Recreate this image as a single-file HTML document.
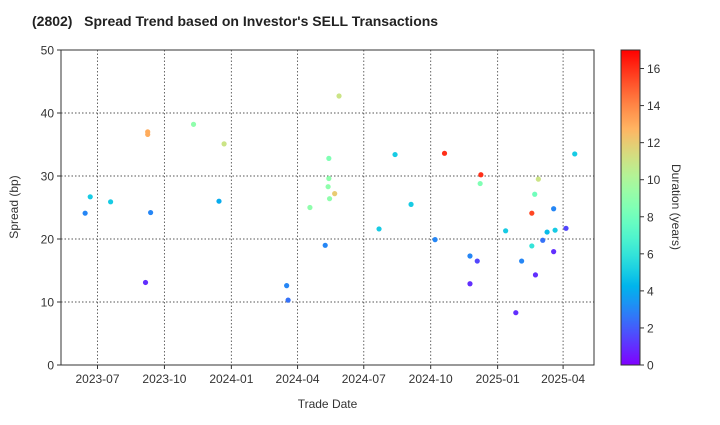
<!DOCTYPE html>
<html><head><meta charset="utf-8"><style>
body{margin:0;background:#fff;font-family:"Liberation Sans",sans-serif}
</style></head><body>
<svg id="chart" width="720" height="420" xmlns="http://www.w3.org/2000/svg" font-family="Liberation Sans, sans-serif">
<defs><linearGradient id="cb" x1="0" y1="1" x2="0" y2="0"></linearGradient></defs>
<text x="32" y="26" font-size="14" font-weight="bold" fill="#222" style="white-space:pre" xml:space="preserve">(2802)   Spread Trend based on Investor's SELL Transactions</text>
<g id="plot"></g>
</svg>
<script>
const dates=["2023-06-14","2023-06-21","2023-07-19","2023-09-05","2023-09-08","2023-09-08","2023-09-12","2023-11-10","2023-12-15","2023-12-22","2024-03-17","2024-03-19","2024-04-18","2024-05-09","2024-05-14","2024-05-14","2024-05-13","2024-05-15","2024-05-22","2024-05-28","2024-07-22","2024-08-13","2024-09-04","2024-10-07","2024-10-20","2024-11-24","2024-12-04","2024-11-24","2024-12-09","2024-12-08","2025-01-12","2025-01-26","2025-02-03","2025-02-17","2025-02-17","2025-02-21","2025-02-26","2025-02-22","2025-03-04","2025-03-10","2025-03-21","2025-03-19","2025-03-19","2025-04-05","2025-04-17"];
const spreads=[24.1,26.7,25.9,13.1,37.0,36.6,24.2,38.2,26.0,35.1,12.6,10.3,25.0,19.0,32.8,29.6,28.3,26.4,27.2,42.7,21.6,33.4,25.5,19.9,33.6,17.3,16.5,12.9,30.2,28.8,21.3,8.3,16.5,24.1,18.9,27.1,29.5,14.3,19.8,21.1,21.4,24.8,18.0,21.7,33.5];
const durations=[3,5,5,1,13,13,3,9,4,11,3,2.5,9,3,8.5,9,9,9,12,11,5,5,5,3,16,3,1.5,1,16,8.5,5,1,3,15.5,6,8,11,1,2.5,4.5,5,3,1,1.5,5];
const yTicks=[0,10,20,30,40,50];
const xTickLabels=["2023-07","2023-10","2024-01","2024-04","2024-07","2024-10","2025-01","2025-04"];
const cTicks=[0,2,4,6,8,10,12,14,16];
const NS="http://www.w3.org/2000/svg";
const L=61,R=594,T=50,B=365,CMAX=17;
const t0=Date.UTC(2023,6,1),pxDay=0.7275;
function dayOf(s){const p=s.split("-");return (Date.UTC(+p[0],+p[1]-1,+(p[2]||1))-t0)/864e5;}
const xS=s=>97.5+dayOf(s)*pxDay;
const yS=v=>B-(v/50)*(B-T);
function rainbow(x){const c=v=>Math.round(255*Math.max(0,Math.min(1,v)));return `rgb(${c(Math.abs(2*x-0.5))},${c(Math.sin(Math.PI*x))},${c(Math.cos(Math.PI*x/2))})`;}
const svg=document.getElementById("plot");
function el(t,a,txt){const e=document.createElementNS(NS,t);for(const k in a)e.setAttribute(k,a[k]);if(txt!==undefined)e.textContent=txt;svg.appendChild(e);return e;}
yTicks.forEach(v=>{const y=yS(v);
 const g=el("line",{x1:L,x2:R,y1:y,y2:y,stroke:"#555","stroke-dasharray":"1.5,2","stroke-width":0.9});
 
 
 const tk=el("line",{x1:L-4,x2:L,y1:y,y2:y,stroke:"#333"});
 
 
 const t=el("text",{x:L-7,y:y+4.5,"text-anchor":"end","font-size":12,fill:"#333"},v);
 
 
});
xTickLabels.forEach(s=>{const x=xS(s);
 const g=el("line",{x1:x,x2:x,y1:T,y2:B,stroke:"#555","stroke-dasharray":"1.5,2","stroke-width":0.9});
 
 
 const tk=el("line",{x1:x,x2:x,y1:B,y2:B+4,stroke:"#333"});
 
 
 const t=el("text",{x:x,y:B+18,"text-anchor":"middle","font-size":12,fill:"#333"},s);
 
 
});
const fr=el("rect",{x:L,y:T,width:R-L,height:B-T,fill:"none",stroke:"#333","stroke-width":1});


dates.forEach((d,i)=>{
 const c=el("circle",{cx:xS(d),cy:yS(spreads[i]),r:2.6,fill:rainbow(durations[i]/CMAX)});
 
 
});
const xl=el("text",{x:(L+R)/2,y:408,"text-anchor":"middle","font-size":12,fill:"#333"},"Trade Date");


const yl=el("text",{x:0,y:0,transform:"translate(18,207) rotate(-90)","text-anchor":"middle","font-size":12,fill:"#333"},"Spread (bp)");


const grad=document.getElementById("cb");
for(let i=0;i<=20;i++){const s=document.createElementNS(NS,"stop");s.setAttribute("offset",i/20);s.setAttribute("stop-color",rainbow(i/20));grad.appendChild(s);}
const CX=621,CW=19;
const cb=el("rect",{x:CX,y:T,width:CW,height:B-T,fill:"url(#cb)",stroke:"#333","stroke-width":1});


cTicks.forEach(v=>{const y=B-(v/CMAX)*(B-T);
 const tk=el("line",{x1:CX+CW,x2:CX+CW+4,y1:y,y2:y,stroke:"#333"});
 
 
 const t=el("text",{x:CX+CW+7,y:y+4.5,"font-size":12,fill:"#333"},v);
 
 
});
const cl=el("text",{x:0,y:0,transform:"translate(672,207) rotate(90)","text-anchor":"middle","font-size":12,fill:"#333"},"Duration (years)");


</script>
</body></html>
